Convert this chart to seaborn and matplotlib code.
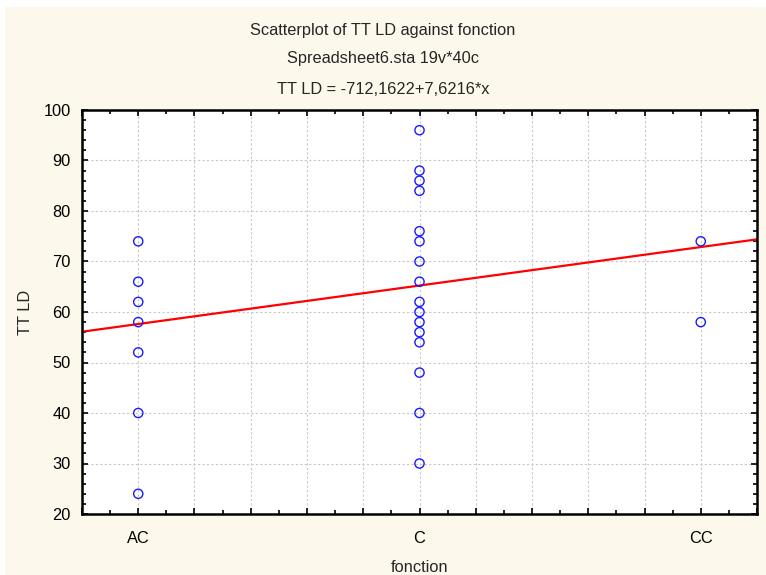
import numpy as np
import pandas as pd
import matplotlib
matplotlib.use("Agg")
import matplotlib.pyplot as plt
import seaborn as sns
from matplotlib.patches import Rectangle
from matplotlib.ticker import MultipleLocator, FuncFormatter

# category codes and labels
categories = ["AC", "C", "CC"]
codes = [101, 102, 103]

# TT LD values, per category
tt_ld_ac = [74, 66, 62, 58, 52, 40, 24]
tt_ld_c = [96, 88, 86, 84, 76, 74, 70, 66, 62, 60, 58, 56, 54, 48, 40, 30]
tt_ld_cc = [74, 58]

# fitted line from the chart subtitle
intercept = -712.1622
slope = 7.6216

df = pd.DataFrame({
    "fonction": [codes[0]] * len(tt_ld_ac) + [codes[1]] * len(tt_ld_c) + [codes[2]] * len(tt_ld_cc),
    "TT LD": tt_ld_ac + tt_ld_c + tt_ld_cc,
})

sns.set_style("ticks")
plt.rcParams["font.family"] = ["Liberation Sans", "DejaVu Sans"]
fs = 11.8

fig = plt.figure(figsize=(7.66, 5.75), dpi=100)
fig.patch.set_facecolor("white")
# cream background with thin white border on top/left
fig.patches.append(Rectangle((5 / 766, 0), 1, 1 - 7 / 575, transform=fig.transFigure,
                             facecolor="#fdf8ec", edgecolor="none", zorder=-10))

ax = fig.add_axes([82 / 766, 1 - 514 / 575, (757 - 82) / 766, (514 - 110) / 575])
ax.set_facecolor("white")

xlim = (100.8, 103.2)
line_df = pd.DataFrame({"x": list(xlim)})
line_df["y"] = intercept + slope * line_df["x"]
sns.lineplot(data=line_df, x="x", y="y", ax=ax, color="#ff0000", linewidth=1.6, zorder=2)

sns.scatterplot(data=df, x="fonction", y="TT LD", ax=ax, marker="o", s=44,
                facecolor="none", edgecolor="#1a1aff", linewidth=1.0, zorder=3)

ax.set_xlim(*xlim)
ax.set_ylim(20, 100)

ax.xaxis.set_major_locator(MultipleLocator(0.2))
ax.xaxis.set_minor_locator(MultipleLocator(0.1))
ax.yaxis.set_major_locator(MultipleLocator(10))
ax.yaxis.set_minor_locator(MultipleLocator(2))

lab = dict(zip(codes, categories))
ax.xaxis.set_major_formatter(FuncFormatter(
    lambda v, p: lab.get(int(round(v)), "") if abs(v - round(v)) < 1e-6 else ""))

ax.grid(True, which="major", color="#c8c8c8", linestyle=(0, (2, 2)), linewidth=0.8)
ax.tick_params(which="both", direction="in", top=True, right=True, width=1.2, colors="black")
ax.tick_params(which="major", length=4, labelsize=fs)
ax.tick_params(axis="x", which="major", pad=12)
ax.tick_params(axis="y", which="major", pad=8)
ax.tick_params(which="minor", length=3)
for s in ax.spines.values():
    s.set_linewidth(1.8)
    s.set_color("black")

ax.set_xlabel("fonction", fontsize=fs, labelpad=10)
ax.set_ylabel("TT LD", fontsize=fs, labelpad=8)

fig.text(0.5, 1 - 30 / 575, "Scatterplot of TT LD against fonction", ha="center", va="center", fontsize=fs)
fig.text(0.5, 1 - 59 / 575, "Spreadsheet6.sta 19v*40c", ha="center", va="center", fontsize=fs)
fig.text(0.5, 1 - 89 / 575, "TT LD = -712,1622+7,6216*x", ha="center", va="center", fontsize=fs)

fig.savefig("out.png", dpi=100, facecolor=fig.get_facecolor())
